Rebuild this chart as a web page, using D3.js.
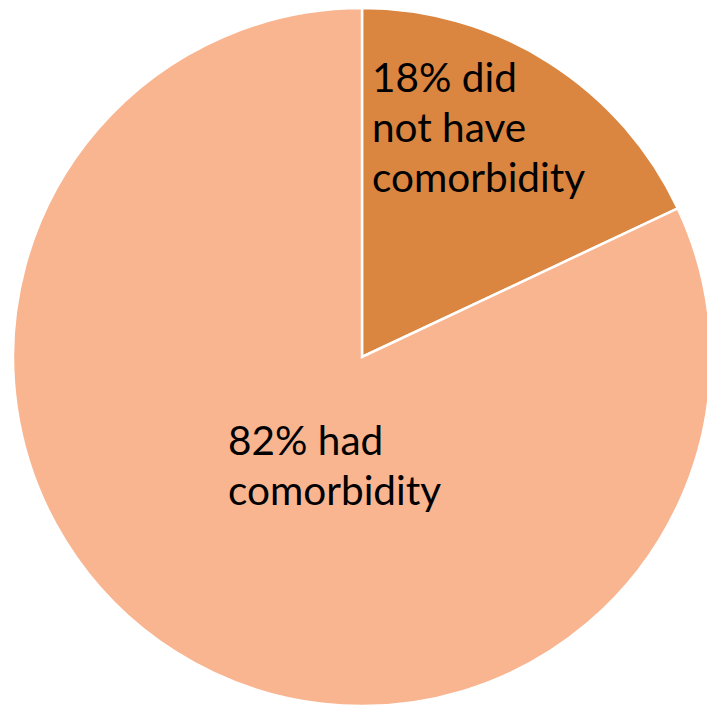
<!DOCTYPE html>
<html><head><meta charset="utf-8">
<script src="https://cdn.jsdelivr.net/npm/d3@7/dist/d3.min.js"></script>
<style>html,body{margin:0;padding:0;background:#fff;}svg{display:block;}</style>
</head><body>
<svg id="chart" width="707" height="708"></svg>
<script>
const categories = ["did not have comorbidity", "had comorbidity"];
const values = [18, 82];
const labelLines = [["18% did", "not have", "comorbidity"], ["82% had", "comorbidity"]];
const colors = ["#DA8540", "#F8B590"];

const svg = d3.select("#chart");
const cx = 362, cy = 357, r = 349;
const g = svg.append("g").attr("transform", `translate(${cx},${cy})`);
const pie = d3.pie().sort(null).value(d => d)(values);
const arc = d3.arc().innerRadius(0).outerRadius(r);
g.selectAll("path").data(pie).join("path")
  .attr("d", arc)
  .attr("fill", (d, i) => colors[i])
  .attr("stroke", "#fff").attr("stroke-width", 2.5);

const labelPos = [[372 - cx, 92 - cy], [228 - cx, 455 - cy]];
const lineH = 50;
labelLines.forEach((lines, i) => {
  const t = g.append("text")
    .attr("font-family", "Lato, 'Open Sans', sans-serif")
    .attr("font-size", 40.5).attr("fill", "#000");
  lines.forEach((l, j) => {
    t.append("tspan").attr("x", labelPos[i][0]).attr("y", labelPos[i][1] + j * lineH).text(l);
  });
});
</script>
</body></html>
